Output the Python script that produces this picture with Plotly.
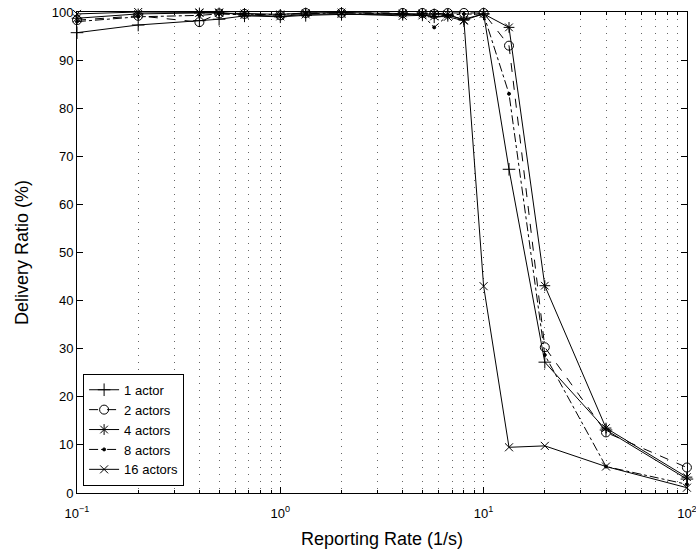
import plotly.graph_objects as go

rate = [0.1, 0.2, 0.4, 0.5, 0.6667, 1, 1.3333, 2, 4, 5, 5.714, 6.6667, 8, 10, 13.333, 20, 40, 100]

actor1 = [95.7, 97.3, 98.2, 98.5, 99.2, 99.0, 99.3, 99.5, 99.5, 99.4, 99.0, 99.3, 98.5, 99.6, 67.3, 27.2, 13.1, 2.9]
actor2 = [98.3, 99.2, 97.9, 99.7, 99.6, 99.3, 99.8, 99.8, 99.8, 99.8, 99.6, 99.8, 99.8, 99.8, 93.0, 30.3, 12.6, 5.3]
actor4 = [98.7, 99.6, 99.8, 99.8, 99.7, 99.5, 99.8, 99.9, 99.7, 99.7, 99.6, 99.5, 98.3, 99.6, 96.8, 43.1, 13.5, 3.3]
actor8 = [98.0, 99.0, 99.3, 99.6, 99.4, 99.5, 99.6, 99.8, 99.6, 99.4, 96.8, 99.3, 99.6, 99.5, 83.0, 28.7, 5.5, 1.8]
actor16 = [99.6, 100.0, 99.9, 99.9, 99.4, 99.1, 99.5, 99.6, 99.2, 99.3, 99.1, 99.0, 98.2, 43.0, 9.5, 9.8, 5.5, 1.1]

x_tickvals = [0.1, 1, 10, 100]
x_ticktext = ["10<sup>\u22121</sup>", "10<sup>0</sup>", "10<sup>1</sup>", "10<sup>2</sup>"]

series = [
    ("1 actor", actor1, "solid", "cross-thin-open", 9),
    ("2 actors", actor2, "dash", "circle-open", 9),
    ("4 actors", actor4, "solid", "asterisk-open", 9),
    ("8 actors", actor8, "dashdot", "circle", 3),
    ("16 actors", actor16, "solid", "x-thin-open", 8),
]

FONT = "Liberation Sans, Arial, Helvetica, sans-serif"

fig = go.Figure()
for name, vals, dash, sym, size in series:
    fig.add_trace(go.Scatter(
        x=rate, y=vals, name=name, mode="lines+markers", cliponaxis=False,
        line=dict(color="black", width=1, dash=dash),
        marker=dict(symbol=sym, size=size, color="black",
                    line=dict(color="black", width=1)),
    ))

fig.update_layout(
    width=696, height=553,
    margin=dict(l=77, r=9, t=12, b=60),
    paper_bgcolor="white", plot_bgcolor="white",
    font=dict(family=FONT, size=13, color="black"),
    showlegend=True,
    legend=dict(
        x=0.01, y=0.015, xanchor="left", yanchor="bottom",
        bordercolor="black", borderwidth=1, bgcolor="white",
        font=dict(size=13), tracegroupgap=0, itemwidth=30,
    ),
    xaxis=dict(
        type="log", range=[-1, 2.0004], automargin=False,
        tickmode="array", tickvals=x_tickvals, ticktext=x_ticktext,
        ticklabeloverflow="allow",
        showline=True, linecolor="black", linewidth=1, mirror="allticks",
        ticks="inside", ticklen=6, tickcolor="black", ticklabelstandoff=8,
        showgrid=True, gridcolor="#444", gridwidth=1, griddash="1px,6px",
        minor=dict(ticks="inside", ticklen=3, tickcolor="black",
                   tickvals=[v * k for v in [0.1, 1, 10] for k in range(2, 10)],
                   showgrid=True, gridcolor="#666", gridwidth=1, griddash="1px,6px"),
        zeroline=False,
        title=dict(text="Reporting Rate (1/s)", font=dict(size=18), standoff=12),
        tickfont=dict(size=13),
    ),
    yaxis=dict(
        range=[0, 100], dtick=10, automargin=False,
        showline=True, linecolor="black", linewidth=1, mirror="ticks",
        ticks="inside", ticklen=6, tickcolor="black",
        showgrid=False, zeroline=False,
        title=dict(text="Delivery Ratio (%)", font=dict(size=18), standoff=18),
        tickfont=dict(size=13),
    ),
)

fig.write_html("out.html")
